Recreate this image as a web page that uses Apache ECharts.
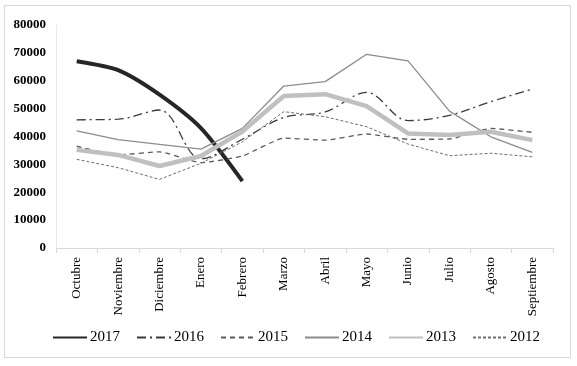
<!DOCTYPE html>
<html>
<head>
<meta charset="utf-8">
<script src="https://cdn.jsdelivr.net/npm/echarts@6/dist/echarts.min.js"></script>
<style>
html,body{margin:0;padding:0;background:#fff;}
#wrap{position:relative;width:577px;height:366px;}
#frame{position:absolute;left:4px;top:5px;width:567px;height:353px;border:1px solid #d9d9d9;box-sizing:border-box;}
#chart{position:absolute;left:0;top:0;width:577px;height:366px;}
</style>
</head>
<body>
<div id="wrap"><div id="frame"></div><div id="chart"></div></div>
<script>
const categories = ['Octubre','Noviembre','Diciembre','Enero','Febrero','Marzo','Abril','Mayo','Junio','Julio','Agosto','Septiembre'];
const s2017 = [67000, 63800, 55000, 43000, 24000, null, null, null, null, null, null, null];
const s2016 = [46000, 46200, 49500, 32000, 39000, 46800, 48800, 55800, 45700, 47600, 52500, 57000];
const s2015 = [36500, 33400, 34500, 30600, 33000, 39400, 38700, 40900, 39000, 39100, 42900, 41500];
const s2014 = [42000, 38900, 37200, 35500, 42900, 58100, 59700, 69500, 67100, 49100, 39900, 34300];
const s2013 = [35200, 33400, 29400, 33000, 41800, 54500, 55200, 50900, 41100, 40500, 41700, 38700];
const s2012 = [31800, 28800, 24600, 30400, 38100, 48900, 47100, 43500, 37300, 33100, 34000, 32700];
const yTicks = [0, 10000, 20000, 30000, 40000, 50000, 60000, 70000, 80000];

const font = 'Liberation Serif';
function mk(name, data, color, width, type, smooth) {
  return {
    name: name, type: 'line', data: data, symbol: 'none', showSymbol: false,
    smooth: smooth, connectNulls: false,
    lineStyle: {color: color, width: width, type: type},
    itemStyle: {color: color},
    emphasis: {disabled: true}
  };
}
const chart = echarts.init(document.getElementById('chart'), null, {renderer: 'canvas'});
chart.setOption({
  animation: false,
  backgroundColor: 'transparent',
  grid: {left: 56, right: 24, top: 25, bottom: 118, containLabel: false},
  legend: {
    left: 52, top: 330, padding: 0, itemWidth: 34, itemHeight: 14, itemGap: 16,
    itemStyle: {opacity: 0, borderWidth: 0},
    textStyle: {fontFamily: font, fontSize: 15, color: '#000', padding: [0,0,0,-2]},
    data: ['2017','2016','2015','2014','2013','2012']
  },
  xAxis: {
    type: 'category', data: categories, boundaryGap: true,
    axisLine: {lineStyle: {color: '#d9d9d9', width: 1}},
    axisTick: {show: true, length: 5, lineStyle: {color: '#d9d9d9'}},
    axisLabel: {rotate: 90, margin: 9, interval: 0, fontFamily: font, fontSize: 13, color: '#000'}
  },
  yAxis: {
    type: 'value', min: yTicks[0], max: yTicks[yTicks.length-1], interval: 10000,
    axisLine: {show: true, lineStyle: {color: '#e8e8e8'}},
    axisTick: {show: false},
    splitLine: {show: false},
    axisLabel: {margin: 10, fontFamily: font, fontSize: 13, color: '#000', fontWeight: 'bold',
      formatter: function (v) { return String(v); }}
  },
  series: [
    mk('2017', s2017, '#262626', 4, 'solid', 0.25),
    mk('2016', s2016, '#3a3a3a', 1.3, [9, 4, 2, 4], 0.35),
    mk('2015', s2015, '#5a5a5a', 1.3, [5, 4], 0.15),
    mk('2014', s2014, '#8c8c8c', 1.3, 'solid', false),
    mk('2013', s2013, '#c0c0c0', 4.5, 'solid', false),
    mk('2012', s2012, '#6e6e6e', 1, [3, 2], false)
  ]
});
</script>
</body>
</html>
